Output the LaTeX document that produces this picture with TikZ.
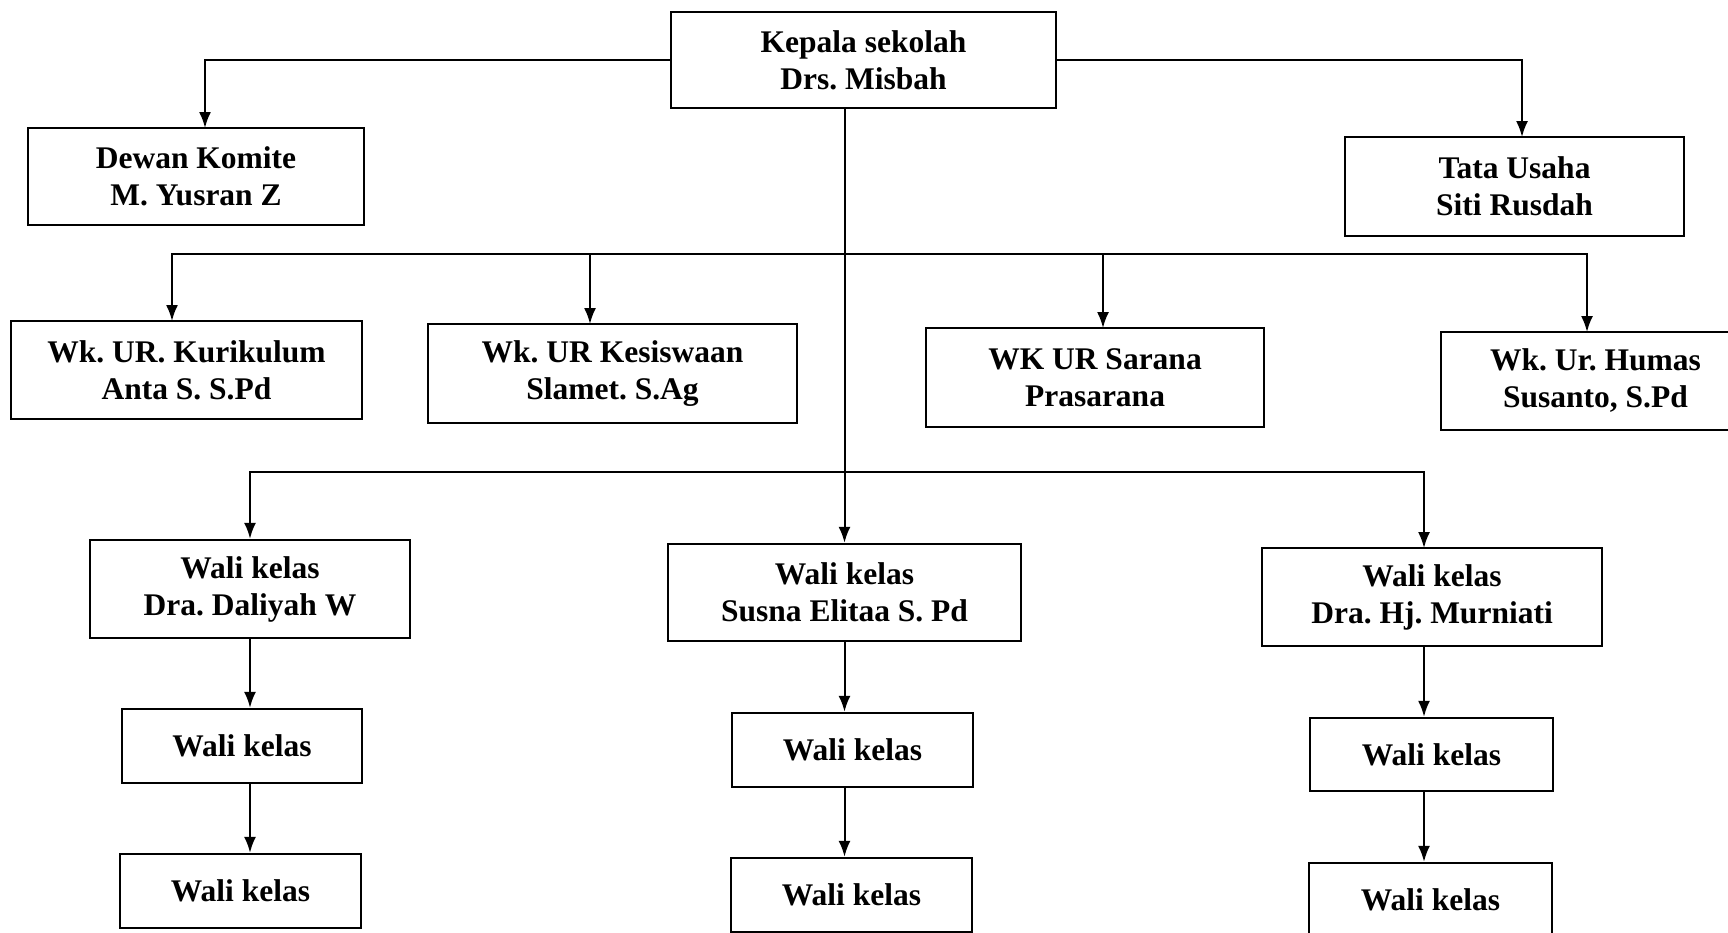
\documentclass[tikz,border=0pt]{standalone}
\usepackage{fontspec}
\setmainfont{Liberation Serif}
\usetikzlibrary{arrows.meta}
\frenchspacing
\begin{document}
\begin{tikzpicture}[x=1pt,y=-1pt,
  box/.style={draw, line width=2.4pt, rectangle, inner sep=0pt, align=center,
    font=\fontsize{31.5}{37}\selectfont\bfseries},
  conn/.style={line width=2pt},
  arr/.style={conn, -{Latex[length=16pt,width=12pt]}}]
\useasboundingbox (0,0) rectangle (1728,932);
% top level
\node[box, minimum width=385pt, minimum height=96pt] (kep) at (863.5,60) {Kepala sekolah\\Drs. Misbah};
\node[box, minimum width=336pt, minimum height=97pt] (dew) at (196,176.5) {Dewan Komite\\M. Yusran Z};
\node[box, minimum width=339pt, minimum height=99pt] (tata) at (1514.5,186.5) {Tata Usaha\\Siti Rusdah};
% deputies
\node[box, minimum width=351pt, minimum height=98pt] (kur) at (186.5,370) {Wk. UR. Kurikulum\\Anta S. S.Pd};
\node[box, minimum width=369pt, minimum height=99pt] (kes) at (612.5,373.5) {Wk. UR Kesiswaan\\Slamet. S.Ag};
\node[box, minimum width=338pt, minimum height=99pt] (sar) at (1095,377.5) {WK UR Sarana\\Prasarana};
\node[box, minimum width=309pt, minimum height=98pt] (hum) at (1595.5,381) {Wk. Ur. Humas\\Susanto, S.Pd};
% wali kelas
\node[box, minimum width=320pt, minimum height=98pt] (dal) at (250,589) {Wali kelas\\Dra. Daliyah W};
\node[box, minimum width=353pt, minimum height=97pt] (sus) at (844.5,592.5) {Wali kelas\\Susna Elitaa S. Pd};
\node[box, minimum width=340pt, minimum height=98pt] (mur) at (1432,597) {Wali kelas\\Dra. Hj. Murniati};
\node[box, minimum width=240pt, minimum height=74pt] (l2) at (242,746) {Wali kelas};
\node[box, minimum width=241pt, minimum height=74pt] (l3) at (240.5,891) {Wali kelas};
\node[box, minimum width=241pt, minimum height=74pt] (m2) at (852.5,750) {Wali kelas};
\node[box, minimum width=241pt, minimum height=74pt] (m3) at (851.5,895) {Wali kelas};
\node[box, minimum width=243pt, minimum height=73pt] (r2) at (1431.5,754.5) {Wali kelas};
\node[box, minimum width=243pt, minimum height=74pt] (r3) at (1430.5,900) {Wali kelas};
% connector anchors
\coordinate (dewin) at (205,128);
\coordinate (tatain) at (1522,137);
\coordinate (kurin) at (172,321);
\coordinate (kesin) at (590,324);
\coordinate (sarin) at (1103,328);
\coordinate (humin) at (1587,332);
\coordinate (murin) at (1424,548);
\coordinate (b1) at (0,254);
\coordinate (b2) at (0,472);
% connectors
\draw[arr] (kep.west) -| (dewin);
\draw[arr] (kep.east) -| (tatain);
\draw[arr] (kep.south -| sus.north) -- (sus.north);
\draw[arr] (sus.north |- b1) -| (kurin);
\draw[arr] (sus.north |- b1) -| (humin);
\draw[arr] (kesin |- b1) -- (kesin);
\draw[arr] (sarin |- b1) -- (sarin);
\draw[arr] (sus.north |- b2) -| (dal.north);
\draw[arr] (sus.north |- b2) -| (murin);
\draw[arr] (dal.south) -- (dal.south |- l2.north);
\draw[arr] (dal.south |- l2.south) -- (dal.south |- l3.north);
\draw[arr] (sus.south) -- (sus.south |- m2.north);
\draw[arr] (sus.south |- m2.south) -- (sus.south |- m3.north);
\draw[arr] (murin |- mur.south) -- (murin |- r2.north);
\draw[arr] (murin |- r2.south) -- (murin |- r3.north);
\end{tikzpicture}
\end{document}
